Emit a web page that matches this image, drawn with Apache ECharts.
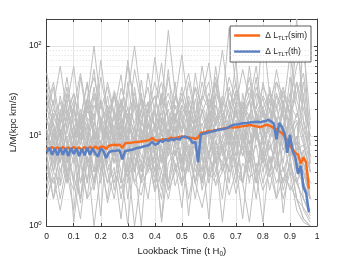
<!DOCTYPE html>
<html>
<head>
<meta charset="utf-8">
<script src="https://cdn.jsdelivr.net/npm/echarts@6/dist/echarts.min.js"></script>
<style>html,body{margin:0;padding:0;background:#fff}#c{width:350px;height:263px}</style>
</head>
<body>
<div id="c"></div>
<script>
// ---- data ----
var mainTimes = [0,0.01,0.02,0.03,0.04,0.05,0.06,0.07,0.08,0.09,0.1,0.11,0.12,0.13,0.14,0.15,0.16,0.17,0.18,0.19,0.2,0.21,0.22,0.23,0.24,0.25,0.26,0.27,0.28,0.29,0.3,0.31,0.32,0.33,0.34,0.35,0.36,0.37,0.38,0.39,0.4,0.41,0.42,0.43,0.44,0.45,0.46,0.47,0.48,0.49,0.5,0.51,0.52,0.53,0.54,0.55,0.56,0.57,0.58,0.59,0.6,0.61,0.62,0.63,0.64,0.65,0.66,0.67,0.68,0.69,0.7,0.71,0.72,0.73,0.74,0.75,0.76,0.77,0.78,0.79,0.8,0.81,0.82,0.83,0.84,0.85,0.86,0.87,0.88,0.89,0.9,0.91,0.92,0.93,0.94,0.95,0.96,0.97];
var simValues = [7.4,7.0,7.6,7.1,7.5,7.0,7.6,7.1,7.5,7.0,7.6,7.1,7.5,7.0,7.6,7.1,7.6,7.2,7.7,7.2,7.6,7.6,7.2,7.8,7.9,8.0,7.9,8.0,7.4,8.3,8.4,8.4,8.5,8.6,8.6,8.7,8.8,8.9,9.0,9.5,9.0,8.9,9.0,9.2,9.1,9.3,9.6,9.4,9.5,9.8,9.9,9.7,9.8,9.6,9.5,9.3,9.6,10.8,11.0,11.1,11.4,11.3,11.6,11.7,11.9,12.1,12.2,12.3,12.6,12.4,12.5,12.6,12.8,12.9,13.0,13.3,13.1,12.9,12.7,12.6,12.9,13.3,13.2,12.8,12.3,11.8,11.3,10.8,9.9,9.0,7.8,7.2,6.5,6.2,4.9,5.8,5.1,2.6];
var thValues = [6.6,7.4,6.2,7.3,6.1,7.4,6.2,7.3,6.0,7.4,6.3,7.3,6.0,7.2,6.1,7.4,6.2,7.3,6.4,5.9,7.3,6.8,5.7,6.6,6.8,6.8,6.9,6.9,5.5,6.8,6.9,7.0,7.1,7.3,7.4,7.5,7.7,7.8,8.0,8.7,8.0,8.2,8.9,8.6,9.2,8.8,9.3,9.0,9.4,9.1,9.7,9.9,9.6,9.3,8.4,8.6,5.1,10.4,10.6,10.8,11.0,11.2,11.4,11.6,11.8,11.9,12.1,12.4,12.9,13.3,13.4,13.5,13.8,13.9,14.0,14.1,14.2,14.3,14.4,14.2,14.5,14.7,15.1,14.6,13.7,9.2,14.0,12.6,10.7,6.5,10.3,6.8,5.8,3.8,4.7,2.7,2.3,1.42];

var grayTimes = [0,0.025,0.05,0.075,0.1,0.125,0.15,0.175,0.2,0.225,0.25,0.275,0.3,0.325,0.35,0.375,0.4,0.425,0.45,0.475,0.5,0.525,0.55,0.575,0.6,0.625,0.65,0.675,0.7,0.725,0.75,0.775,0.8,0.825,0.85,0.875,0.9,0.925,0.95,0.975];
var g1 = [12,5,20,8,3,15,40,9,4,22,7,3,18,6,30,10,4,14,55,8,5,25,12,3,9,28,6,15,70,10,4,18,8,35,12,5,20,6,3,2];
var g2 = [4,9,3,14,25,6,2,10,5,18,9,3,12,4,8,20,6,2.5,11,16,4,7,13,3,22,6,9,14,5,30,12,4,10,20,6,3,8,14,4,2];
var g3 = [30,12,6,18,9,45,15,7,25,11,5,16,70,20,8,14,6,28,10,40,9,5,17,8,12,60,15,7,20,9,16,45,11,25,8,13,30,6,150,5];
var g4 = [6,2,8,4,1.5,7,3,12,5,2,9,4,1.05,6,3,10,4,2,8,5,1.6,7,3,11,4,6,2,9,5,3,12,4,7,2.5,6,3,5,2,1.2,1];
var g5 = [18,35,10,22,60,14,8,28,12,40,18,9,30,100,25,12,20,65,15,9,22,14,35,10,18,45,20,12,30,16,25,10,40,18,55,22,14,8,30,4];
var g6 = [9,4,14,6,11,3,8,18,5,13,7,24,9,4,15,8,5,12,3,9,18,6,11,4,16,7,10,25,8,14,5,19,9,15,6,24,10,4,7,2];
var g7 = [3,7,2,5,9,3,6,1.0,4,8,2.5,6,10,3,5,2,7,4,9,2.8,5,8,3,6,1.2,9,4,7,3,11,5,8,3,6,2,9,4,3,2,1.5];
var g8 = [15,8,28,12,6,20,10,35,14,7,19,48,11,25,9,17,13,30,8,22,12,40,16,9,26,13,18,8,24,15,60,14,20,11,28,16,9,18,12,6];
var g9 = [5,12,7,3,10,16,5,8,1.3,11,6,14,4,9,20,5,10,3,7,13,5,9,15,6,4,12,8,3,10,18,6,13,5,9,14,4,7,10,3,2];
var g10 = [50,20,13,25,9,16,38,12,8,17,28,10,15,9,42,14,20,10,15,25,80,20,12,18,30,14,22,160,35,18,25,12,20,30,15,10,45,20,9,4];
var g11 = [8,14,5,20,10,6,13,4,16,9,5,11,21,7,12,4,9,16,6,10,4,13,7,20,9,5,14,8,11,6,17,9,13,7,11,18,6,10,5,3];
var g12 = [2.5,5,8,3,6,1.8,9,4,6,3,7,2,5,8,3,4,6,1.1,5,7,3,4.5,9,2.5,6,3.5,8,4,5,1.2,7,3,6,4,8,2.5,5,3,2,1.3];
var g13 = [22,10,16,45,13,9,24,15,70,18,11,26,14,8,20,35,12,18,9,28,15,11,50,16,10,22,13,35,17,22,12,30,18,12,40,20,80,25,15,8];
var g14 = [10,6,12,3.5,9,15,7,11,4,18,8,13,6,10,3,14,9,20,7,12,5,16,10,7,13,4,9,17,6,12,8,14,5,10,16,7,11,5,4,2.5];
var g15 = [4,3,6,10,1.1,5,8,3,13,5,3,9,2,7,4,11,3,6,12,4,8,1.3,6,10,3,7,5,12,4,8,3,10,6,4,9,1.4,6,2,1.6,1.2];
var g16 = [14,25,9,16,30,12,20,55,14,10,30,16,9,22,13,50,18,10,25,14,35,18,12,28,65,17,12,20,40,14,24,60,16,30,20,12,25,200,14,6];
var g17 = [7,16,11,5,13,8,21,10,6,15,9,18,7,12,26,8,14,5,11,17,8,13,5,10,19,11,7,15,10,21,8,12,18,10,13,9,16,8,6,3];
var g18 = [2,4,2.8,6,3.5,2,5,2.5,7,3,4.5,1.2,6,3,2.2,5,3.5,8,2.5,4,6,2,5,3,7,2.8,4,6,2.3,5,3.5,4,1.1,6,3,4.5,2.5,3.5,1.5,1.1];
var g19 = [35,16,24,12,20,50,18,30,14,22,12,34,20,14,26,18,75,22,150,30,18,24,14,40,20,28,90,24,16,22,35,18,26,14,20,32,18,40,20,10];
var g20 = [11,7,18,9,5,12,26,9,14,6,10,15,8,35,11,7,13,9,6,16,11,19,8,14,6,11,16,9,20,7,13,10,6,15,9,25,12,7,8,4];
var g21 = [6,10,4,8,13,5,9,3,7,11,5,8,3.5,10,6,4.5,12,7,3,9,6,11,4,8,13,5,7,10,4,9,6,12,4,8,5,11,7,4,3,2];
var g22 = [20,40,14,28,18,12,25,100,22,15,32,18,60,24,16,20,28,14,45,20,26,16,35,22,14,30,20,45,25,18,30,20,150,28,22,35,16,30,50,12];
var g23 = [3,6,12,5,8,2,10,6,15,4,7,11,3,9,5,14,6,1.2,9,12,5,8,3,11,6,16,7,4,12,6,9,3,13,5,8,20,6,10,2,1.4];
var g24 = [16,9,5,12,20,8,14,6,25,10,16,7,40,12,9,18,28,11,7,15,30,13,9,20,11,38,15,10,22,13,8,18,12,26,15,9,14,40,10,5];
var g25 = [5,2,4,7,3,1.2,6,3,9,4,2,7,3.5,5,1.0,8,4,6,2.5,7,3,5,2,8,3.5,6,1.1,5,8,3,6,2,7,3.5,5,2,4,1.5,1.1,1];
var g26 = [25,14,8,30,16,10,22,13,45,18,10,24,16,30,12,8,22,40,14,18,11,28,16,60,20,13,25,16,32,20,45,15,28,20,14,30,24,60,100,15];
var g27 = [8,18,10,6,22,9,16,12,7,28,10,6,18,11,9,24,7,13,20,8,15,10,26,9,6,14,20,10,15,8,18,11,7,16,22,9,12,15,8,4];
var g28 = [12,4,9,16,6,11,3,14,8,5,20,9,6,13,4,10,18,5,12,8,3,15,9,6,18,10,4,13,8,11,5,16,9,4,12,7,10,3,5,2];
var g29 = [40,22,60,18,30,14,26,45,20,35,16,24,14,55,22,18,40,20,30,16,25,50,18,28,20,40,16,30,22,55,26,20,35,25,40,28,18,120,25,10];
var g30 = [6,11,7,4,9,14,5,8,3,10,6,13,8,4,11,7,2.5,9,14,6,10,4,12,7,15,5,9,6,11,3,8,12,6,9,4,13,7,5,4,2];
var g31 = [2,3.5,1.5,4,2.5,5,2,3,6,1.8,4,2.6,5,1.0,3.5,6,2.4,4,2,5,2.8,6,3,1.6,4,3,5,2.2,4,3,1.1,5,2.5,4,2,3.5,2.8,2,1.2,1];
var g32 = [10,20,14,35,12,18,9,22,16,12,28,14,20,10,16,24,13,30,16,11,22,18,12,25,40,15,28,18,12,24,16,35,20,14,30,18,22,16,40,8];
var grayLines = [g1,g2,g3,g4,g5,g6,g7,g8,g9,g10,g11,g12,g13,g14,g15,g16,g17,g18,g19,g20,g21,g22,g23,g24,g25,g26,g27,g28,g29,g30,g31,g32];

var xTicks = {min: 0, max: 1, interval: 0.1};
var yRange = {min: 1, max: 200};
var minorLevels = [2,3,4,5,6,7,8,9,20,30,40,50,60,70,80,90];
var simName = 'Δ L_TLT(sim)';
var thName = 'Δ L_TLT(th)';

// ---- chart ----
function zip(xs, ys) { return ys.map(function (v, i) { return [xs[i], v]; }); }
var FONT = 'Liberation Sans';
var AXC = '#404040';
var series = [];
grayLines.forEach(function (g, i) {
  series.push({
    name: 'g' + i, type: 'line', data: zip(grayTimes, g), symbol: 'none', silent: true,
    lineStyle: {color: '#bfbfbf', width: 1}, z: 2, animation: false
  });
});
// minor dotted grid lines
series.push({
  name: 'minor', type: 'line', data: [], silent: true, animation: false,
  markLine: {
    silent: true, symbol: 'none', label: {show: false},
    lineStyle: {color: '#d6d6d6', type: [1, 2], width: 0.8},
    data: minorLevels.map(function (v) { return {yAxis: v}; })
  }, z: 1
});
series.push({
  name: simName, type: 'line', data: zip(mainTimes, simValues), symbol: 'none',
  lineStyle: {color: '#f96a1b', width: 2.4}, itemStyle: {color: '#f96a1b'}, z: 5, animation: false
});
series.push({
  name: thName, type: 'line', data: zip(mainTimes, thValues), symbol: 'none',
  lineStyle: {color: '#5a7fc3', width: 2.5}, itemStyle: {color: '#5a7fc3'}, z: 6, animation: false
});

var yLabelFmt = function (v) {
  var e = Math.round(Math.log10(v));
  if (Math.abs(Math.pow(10, e) - v) > 1e-6) return '';
  return '10{sup|' + e + '}';
};

var chart = echarts.init(document.getElementById('c'), null, {renderer: 'canvas'});
chart.setOption({
  animation: false,
  textStyle: {fontFamily: FONT},
  grid: {left: 45, top: 19, right: 33, bottom: 31, containLabel: false},
  legend: {
    data: [{name: simName, itemStyle: {color: '#f96a1b'}}, {name: thName, itemStyle: {color: '#5a7fc3'}}],
    icon: 'rect',
    orient: 'vertical', right: 39, top: 26,
    backgroundColor: '#fff', borderColor: '#333', borderWidth: 0.8,
    padding: [5, 4, 5, 4], itemGap: 6, itemWidth: 26, itemHeight: 2.5,
    textStyle: {fontFamily: FONT, fontSize: 8.5, color: '#222',
      rich: {sub: {fontSize: 6, fontFamily: FONT, color: '#222', padding: [5, 0, 0, 0]}}},
    formatter: function (n) {
      return n.replace('_TLT', '{sub|TLT}');
    }
  },
  xAxis: [{
    type: 'value', min: xTicks.min, max: xTicks.max, interval: xTicks.interval, position: 'bottom',
    axisLine: {show: true, onZero: false, lineStyle: {color: AXC, width: 1}},
    axisTick: {show: true, inside: true, length: 3, lineStyle: {color: AXC}},
    axisLabel: {fontSize: 8.5, color: '#222', margin: 6, fontFamily: FONT},
    splitLine: {show: true, lineStyle: {color: '#e4e4e4', width: 1}},
    name: 'Lookback Time (t H{sub|0})', nameLocation: 'middle', nameGap: 19,
    nameTextStyle: {fontSize: 9.5, color: '#222', fontFamily: FONT,
      rich: {sub: {fontSize: 6.5, fontFamily: FONT, color: '#222', padding: [6, 0, 0, 0]}}}
  }, {
    type: 'value', min: xTicks.min, max: xTicks.max, interval: xTicks.interval, position: 'top',
    axisLine: {show: true, onZero: false, lineStyle: {color: AXC, width: 1}},
    axisTick: {show: true, inside: true, length: 3, lineStyle: {color: AXC}},
    axisLabel: {show: false}, splitLine: {show: false}
  }],
  yAxis: [{
    type: 'log', logBase: 10, min: yRange.min, max: yRange.max, position: 'left',
    axisLine: {show: true, onZero: false, lineStyle: {color: AXC, width: 1}},
    axisTick: {show: true, inside: true, length: 3, lineStyle: {color: AXC}},
    axisLabel: {formatter: yLabelFmt, fontSize: 8.5, color: '#222', margin: 5, fontFamily: FONT,
      rich: {sup: {fontSize: 6, fontFamily: FONT, color: '#222', padding: [0, 0, 6, 0]}}},
    splitLine: {show: true, lineStyle: {color: '#e4e4e4', width: 1}},
    name: 'L/M(kpc km/s)', nameLocation: 'middle', nameGap: 22,
    nameTextStyle: {fontSize: 9.5, color: '#222', fontFamily: FONT}
  }, {
    type: 'log', logBase: 10, min: yRange.min, max: yRange.max, position: 'right',
    axisLine: {show: true, onZero: false, lineStyle: {color: AXC, width: 1}},
    axisTick: {show: true, inside: true, length: 3, lineStyle: {color: AXC}},
    minorTick: {show: true, splitNumber: 9, length: 2, lineStyle: {color: AXC}},
    axisLabel: {show: false}, splitLine: {show: false}
  }],
  series: series
});
</script>
</body>
</html>
